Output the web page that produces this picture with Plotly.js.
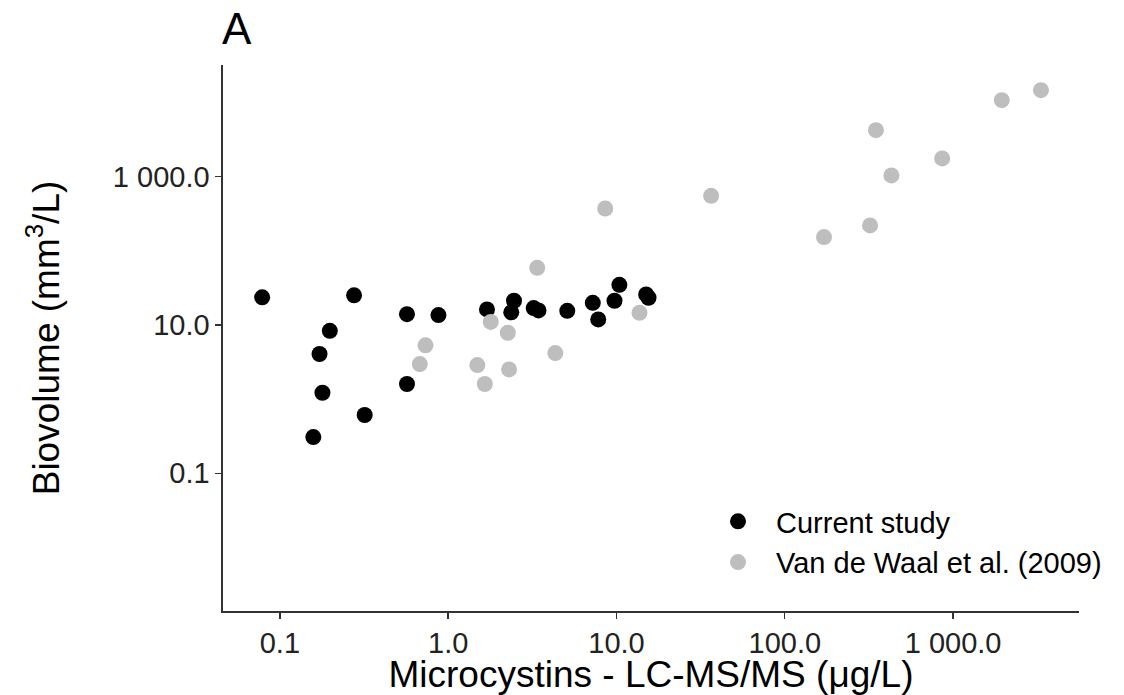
<!DOCTYPE html>
<html>
<head>
<meta charset="utf-8">
<script src="https://cdn.plot.ly/plotly-3.0.1.min.js"></script>
<style>html,body{margin:0;padding:0;background:#fff;}#chart{width:1124px;height:695px;}</style>
</head>
<body>
<div id="chart"></div>
<script>
// Current study (black)
const currentX = [0.0785, 0.276, 0.198, 0.172, 0.179, 0.158, 0.319, 0.569, 0.875, 0.569, 1.70, 2.46, 2.37, 3.22, 3.44, 5.10, 7.23, 7.79, 9.73, 10.4, 15.0, 15.5];
const currentY = [23.6, 25.1, 8.35, 4.06, 1.22, 0.308, 0.611, 14.0, 13.6, 1.60, 16.2, 21.2, 14.8, 16.9, 15.7, 15.5, 19.9, 11.9, 21.2, 34.8, 25.8, 23.3];
// Van de Waal et al. (2009) (grey)
const waalX = [0.733, 0.678, 1.79, 2.26, 1.49, 1.65, 2.30, 3.38, 4.33, 13.7, 8.57, 36.5, 171, 321, 348, 430, 861, 1946, 3327];
const waalY = [5.31, 2.97, 11.0, 7.85, 2.88, 1.60, 2.52, 59.0, 4.18, 14.6, 372, 551, 153, 220, 4236, 1038, 1758, 10740, 14650];

const seriesNames = ["Current study", "Van de Waal et al. (2009)"];
const xTickVals = [0.1, 1, 10, 100, 1000];
const xTickText = ["0.1", "1.0", "10.0", "100.0", "1 000.0"];
const yTickVals = [0.1, 10, 1000];
const yTickText = ["0.1", "10.0", "1 000.0"];

const FONT = "Liberation Sans, Arial, Helvetica, sans-serif";

const traces = [
  {x: currentX, y: currentY, name: seriesNames[0], type: "scatter", mode: "markers",
   marker: {color: "#000000", size: 16}},
  {x: waalX, y: waalY, name: seriesNames[1], type: "scatter", mode: "markers",
   marker: {color: "#BEBEBE", size: 16}}
];

const axisCommon = {
  type: "log", showgrid: false, zeroline: false, showline: true,
  linecolor: "#333333", linewidth: 1.6, ticks: "outside", ticklen: 6,
  tickcolor: "#333333", tickwidth: 1.4, tickmode: "array",
  tickfont: {family: FONT, size: 29, color: "#222222"}, automargin: false
};

const layout = {
  width: 1124, height: 695,
  margin: {l: 223, r: 45, t: 65, b: 84, autoexpand: false},
  paper_bgcolor: "#ffffff", plot_bgcolor: "#ffffff",
  font: {family: FONT, color: "#000000"},
  title: {text: "A", font: {family: FONT, size: 44, color: "#000000"},
          x: 222/1124, xref: "container", xanchor: "left", y: 1 - 13/695, yref: "container", yanchor: "top"},
  xaxis: Object.assign({}, axisCommon, {
    range: [-1.338, 3.748], tickvals: xTickVals, ticktext: xTickText,
    title: {text: "Microcystins - LC-MS/MS (μg/L)", font: {family: FONT, size: 37, color: "#000000"}, standoff: 5}
  }),
  yaxis: Object.assign({}, axisCommon, {
    range: [-2.856, 4.505], tickvals: yTickVals, ticktext: yTickText,
    title: {text: "Biovolume (mm<sup>3</sup>/L)", font: {family: FONT, size: 37, color: "#000000"}, standoff: 42}
  }),
  showlegend: true,
  legend: {x: (700-223)/856, y: (611-496)/546, xanchor: "left", yanchor: "top",
           bgcolor: "rgba(0,0,0,0)", font: {family: FONT, size: 29, color: "#000000"},
           itemwidth: 66, tracegroupgap: 0}
};

Plotly.newPlot("chart", traces, layout, {staticPlot: true, displayModeBar: false});
</script>
</body>
</html>
